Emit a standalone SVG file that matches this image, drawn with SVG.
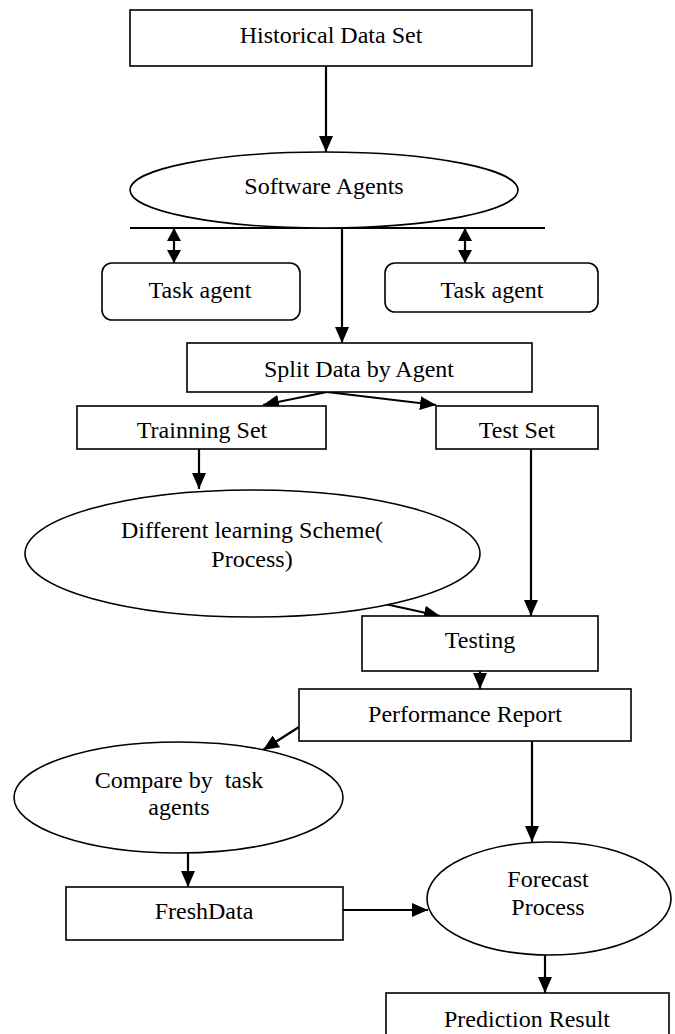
<svg xmlns="http://www.w3.org/2000/svg" width="675" height="1034" viewBox="0 0 675 1034">
<defs>
<marker id="ah" markerUnits="userSpaceOnUse" markerWidth="16" markerHeight="14" refX="16" refY="7" orient="auto-start-reverse" viewBox="0 0 16 14">
<path d="M0,0 L16,7 L0,14 z" fill="#000"/>
</marker>
<marker id="ahs" markerUnits="userSpaceOnUse" markerWidth="13" markerHeight="14" refX="13" refY="7" orient="auto-start-reverse" viewBox="0 0 13 14">
<path d="M0,0 L13,7 L0,14 z" fill="#000"/>
</marker>
<style>
.n{fill:#fff;stroke:#000;stroke-width:1.6}
.t{font-family:"Liberation Serif","Times New Roman",serif;font-size:24px;fill:#000;text-anchor:middle}
.c{stroke:#000;stroke-width:2.2;fill:none}
.a{marker-end:url(#ah)}
.d{marker-start:url(#ahs);marker-end:url(#ahs)}
</style>
</defs>
<rect width="675" height="1034" fill="#fff"/>
<g id="connectors">
<line class="c a" x1="326" y1="66" x2="326" y2="152"/>
<line class="c" x1="130" y1="228" x2="545" y2="228"/>
<line class="c d" x1="174" y1="228" x2="174" y2="263"/>
<line class="c d" x1="465" y1="228" x2="465" y2="263"/>
<line class="c a" x1="342" y1="228" x2="342" y2="343"/>
<line class="c a" x1="327" y1="392" x2="263" y2="405"/>
<line class="c a" x1="327" y1="392" x2="436" y2="405"/>
<line class="c a" x1="199" y1="449" x2="199" y2="489"/>
<line class="c a" x1="531" y1="449" x2="531" y2="616"/>
<line class="c a" x1="385" y1="604" x2="440" y2="616"/>
<line class="c a" x1="480" y1="671" x2="480" y2="689"/>
<line class="c a" x1="299" y1="727" x2="263" y2="750"/>
<line class="c a" x1="532" y1="741" x2="532" y2="842"/>
<line class="c a" x1="188" y1="853" x2="188" y2="887"/>
<line class="c a" x1="343" y1="910" x2="428" y2="910"/>
<line class="c a" x1="545" y1="955" x2="545" y2="993"/>
</g>
<g id="historical">
<rect class="n" x="130" y="10" width="402" height="56"/>
<text class="t" x="331" y="43">Historical Data Set</text>
</g>
<g id="software-agents">
<ellipse class="n" cx="324" cy="190" rx="194" ry="38"/>
<text class="t" x="324" y="194">Software Agents</text>
</g>
<g id="task-agent-left">
<rect class="n" x="102" y="263" width="198" height="57" rx="10"/>
<text class="t" x="200" y="298">Task agent</text>
</g>
<g id="task-agent-right">
<rect class="n" x="385" y="263" width="213" height="49" rx="10"/>
<text class="t" x="492" y="298">Task agent</text>
</g>
<g id="split">
<rect class="n" x="187" y="343" width="345" height="49"/>
<text class="t" x="359" y="377">Split Data by Agent</text>
</g>
<g id="training">
<rect class="n" x="77" y="406" width="249" height="43"/>
<text class="t" x="202" y="438">Trainning Set</text>
</g>
<g id="test-set">
<rect class="n" x="436" y="406" width="162" height="43"/>
<text class="t" x="517" y="438">Test Set</text>
</g>
<g id="learning">
<ellipse class="n" cx="252.5" cy="553.5" rx="227.5" ry="63.5"/>
<text class="t" x="252" y="538">Different learning Scheme(</text>
<text class="t" x="252" y="567">Process)</text>
</g>
<g id="testing">
<rect class="n" x="362" y="616" width="236" height="55"/>
<text class="t" x="480" y="648">Testing</text>
</g>
<g id="performance">
<rect class="n" x="299" y="689" width="332" height="52"/>
<text class="t" x="465" y="722">Performance Report</text>
</g>
<g id="compare">
<ellipse class="n" cx="178.5" cy="797.5" rx="164.5" ry="55.5"/>
<text class="t" x="179" y="788" xml:space="preserve">Compare by  task</text>
<text class="t" x="179" y="815">agents</text>
</g>
<g id="fresh">
<rect class="n" x="66" y="887" width="277" height="53"/>
<text class="t" x="204" y="919">FreshData</text>
</g>
<g id="forecast">
<ellipse class="n" cx="549" cy="898.5" rx="122" ry="56.5"/>
<text class="t" x="548" y="887">Forecast</text>
<text class="t" x="548" y="915">Process</text>
</g>
<g id="prediction">
<rect class="n" x="386" y="993" width="283" height="50"/>
<text class="t" x="527" y="1027">Prediction Result</text>
</g>
</svg>
